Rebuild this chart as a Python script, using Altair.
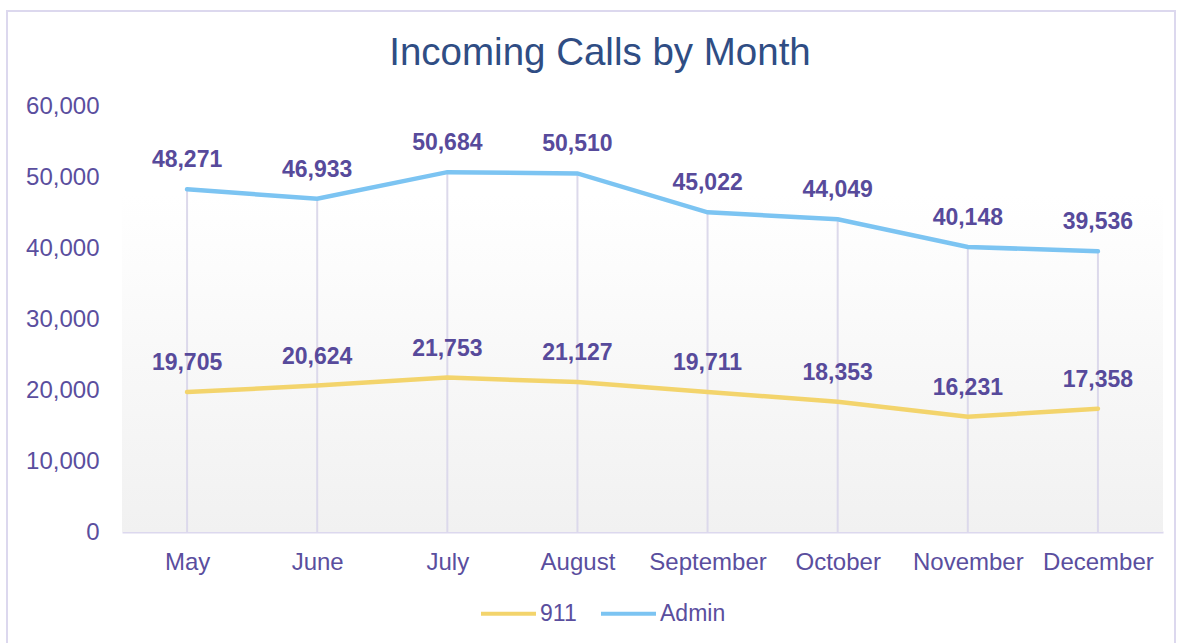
import altair as alt
import pandas as pd

months = ["May", "June", "July", "August", "September", "October", "November", "December"]
admin = [48271, 46933, 50684, 50510, 45022, 44049, 40148, 39536]
calls911 = [19705, 20624, 21753, 21127, 19711, 18353, 16231, 17358]
series = ["911", "Admin"]
colors = ["#f3d46c", "#7cc4f2"]

rows = []
for m, v in zip(months, calls911):
    rows.append({"month": m, "series": "911", "calls": v})
for m, v in zip(months, admin):
    rows.append({"month": m, "series": "Admin", "calls": v})
df = pd.DataFrame(rows)
drop = pd.DataFrame({"month": months, "calls": admin})

W, H = 1041, 426
FONT = "Liberation Sans"
LABEL = "#5a4e9e"

x_enc = alt.X("month:N", sort=months, scale=alt.Scale(type="point", padding=0.5),
              axis=alt.Axis(title=None, labelFontSize=24, labelColor=LABEL, labelFont=FONT,
                            labelPadding=18, ticks=False, domainColor="#dcd8ee",
                            domainWidth=2, grid=False, labelAngle=0))
y_scale = alt.Scale(domain=[0, 60000])
y_enc = alt.Y("calls:Q", scale=y_scale,
              axis=alt.Axis(title=None, values=[0, 10000, 20000, 30000, 40000, 50000, 60000],
                            format=",.0f", labelFontSize=24, labelColor=LABEL, labelFont=FONT,
                            labelPadding=23, ticks=False, domain=False, grid=False))

one = alt.Data(values=[{}])

grad = alt.Chart(one).mark_rect(
    color=alt.LinearGradient(gradient="linear",
                             stops=[alt.GradientStop(offset=0, color="#ffffff"),
                                    alt.GradientStop(offset=1, color="#f1f1f1")],
                             x1=0, x2=0, y1=0, y2=1)
).encode(x=alt.value(0), x2=alt.value(W), y=alt.value(89), y2=alt.value(H))

border = alt.Chart(one).mark_rect(fillOpacity=0, stroke="#dcd8ee", strokeWidth=2).encode(
    x=alt.value(-115), x2=alt.value(1053), y=alt.value(-95), y2=alt.value(560))

title = alt.Chart(one).mark_text(text="Incoming Calls by Month", fontSize=38.5, font=FONT,
                                 color="#2f4d84", align="center", baseline="alphabetic").encode(
    x=alt.value(478), y=alt.value(-41))

drops = alt.Chart(drop).mark_rule(color="#dcd9eb", strokeWidth=2).encode(
    x=x_enc, y=y_enc, y2=alt.datum(0))

color = alt.Color("series:N", scale=alt.Scale(domain=series, range=colors),
                  legend=alt.Legend(title=None, orient="none", direction="horizontal",
                                    legendX=357, legendY=478, symbolType="stroke",
                                    symbolSize=3025, symbolStrokeWidth=4, labelFontSize=23,
                                    labelColor=LABEL, labelFont=FONT, labelOffset=2,
                                    columnPadding=16, padding=0))

lines = alt.Chart(df).mark_line(strokeWidth=4.5, strokeCap="round").encode(
    x=x_enc, y=y_enc, color=color, detail="series:N")

labels = alt.Chart(df).mark_text(fontSize=23, fontWeight="bold", font=FONT, color="#574a9b",
                                 baseline="alphabetic", dy=-22).encode(
    x=x_enc, y=y_enc, text=alt.Text("calls:Q", format=","))

chart = alt.layer(grad, border, title, drops, lines, labels).properties(
    width=W, height=H,
    autosize=alt.AutoSizeParams(type="none"),
    padding={"left": 122, "top": 106, "right": 19, "bottom": 111},
    background="white",
).configure_view(stroke=None)

chart.save("out.html", embed_options={"renderer": "svg", "actions": False})
